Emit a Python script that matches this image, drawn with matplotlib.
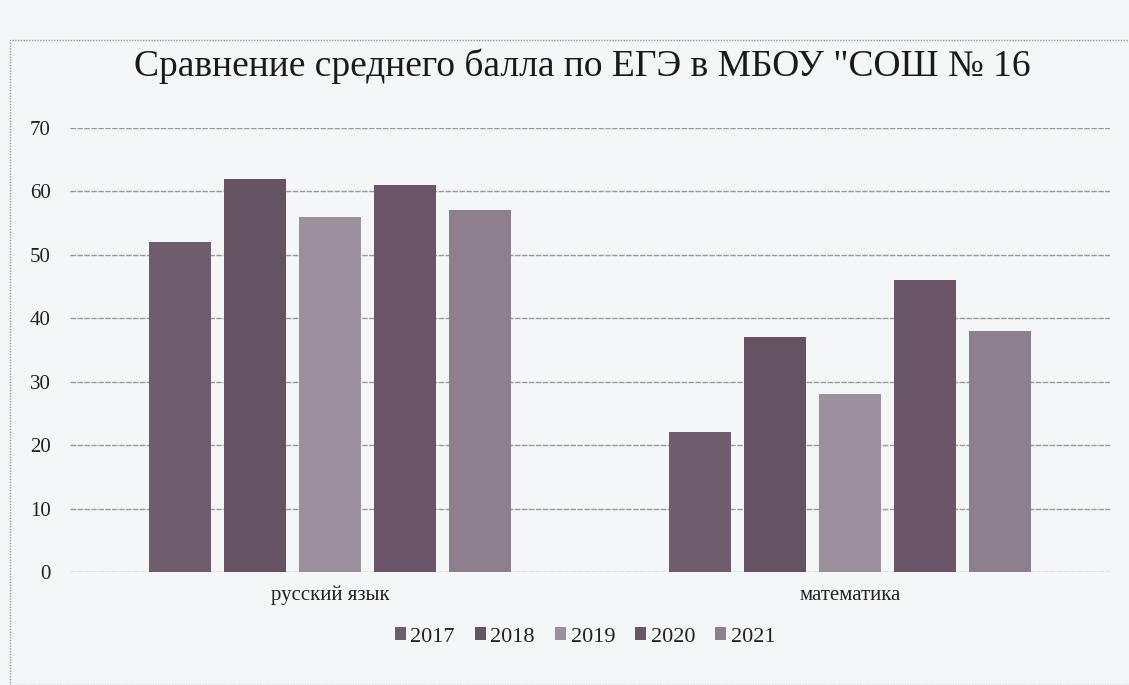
import matplotlib
matplotlib.use("Agg")
import matplotlib.pyplot as plt
import numpy as np
from matplotlib.patches import Rectangle

categories = ["русский язык", "математика"]
years = ["2017", "2018", "2019", "2020", "2021"]
values = {
    "2017": [52, 22],
    "2018": [62, 37],
    "2019": [56, 28],
    "2020": [61, 46],
    "2021": [57, 38],
}
colors = ["#6f5c6c", "#655262", "#9c909c", "#6a5668", "#8d7f8e"]
title = 'Сравнение среднего балла по ЕГЭ в МБОУ "СОШ № 16'
yticks = [0, 10, 20, 30, 40, 50, 60, 70]

plt.rcParams['font.family'] = ['Liberation Serif', 'DejaVu Serif']

fig = plt.figure(figsize=(11.29, 6.85), dpi=100, facecolor="#f5f6f8")
# chart frame
fig.patches.append(Rectangle((10/1129, 0.0), 1.2, 1 - 40/685, transform=fig.transFigure,
                             fill=False, edgecolor="#9a9a9a", linestyle=(0, (1, 1)), linewidth=1.0))
ax = fig.add_axes([70/1129, 1 - 572/685, (1110 - 70)/1129, (572 - 128)/685])
ax.set_facecolor("#f5f6f8")

x = np.arange(len(categories))
n = len(years)
slot = 0.72 / n
width = slot * 0.83
for i, (yr, c) in enumerate(zip(years, colors)):
    ax.bar(x + (i - (n - 1) / 2) * slot, values[yr], width=width, color=c, label=yr, zorder=3)

ax.set_xlim(-0.5, len(categories) - 0.5)
ax.set_ylim(0, 70)
ax.set_yticks(yticks)
ax.set_yticklabels([str(t) for t in yticks], fontsize=15, color="#222222")
ax.set_xticks(x)
ax.set_xticklabels(categories, fontsize=15, color="#222222")
ax.tick_params(axis="y", length=0, pad=14)
ax.tick_params(axis="x", length=0, pad=10)
for s in ax.spines.values():
    s.set_visible(False)
ax.yaxis.grid(True, color="#9a9a9a", linewidth=1.0, linestyle=(0, (4, 1)), zorder=0)
ax.set_axisbelow(True)

fig.text(582/1129, 1 - 66/685, title, ha="center", va="center", fontsize=27, color="#1a1a1a")
leg = fig.legend(loc="center", bbox_to_anchor=(585/1129, 1 - 637/685), ncol=5, frameon=False,
                 fontsize=16, handlelength=0.5, handleheight=0.5, handletextpad=0.2, columnspacing=0.9)
for t in leg.get_texts():
    t.set_color("#222222")

fig.savefig("out.png", dpi=100, facecolor=fig.get_facecolor())
